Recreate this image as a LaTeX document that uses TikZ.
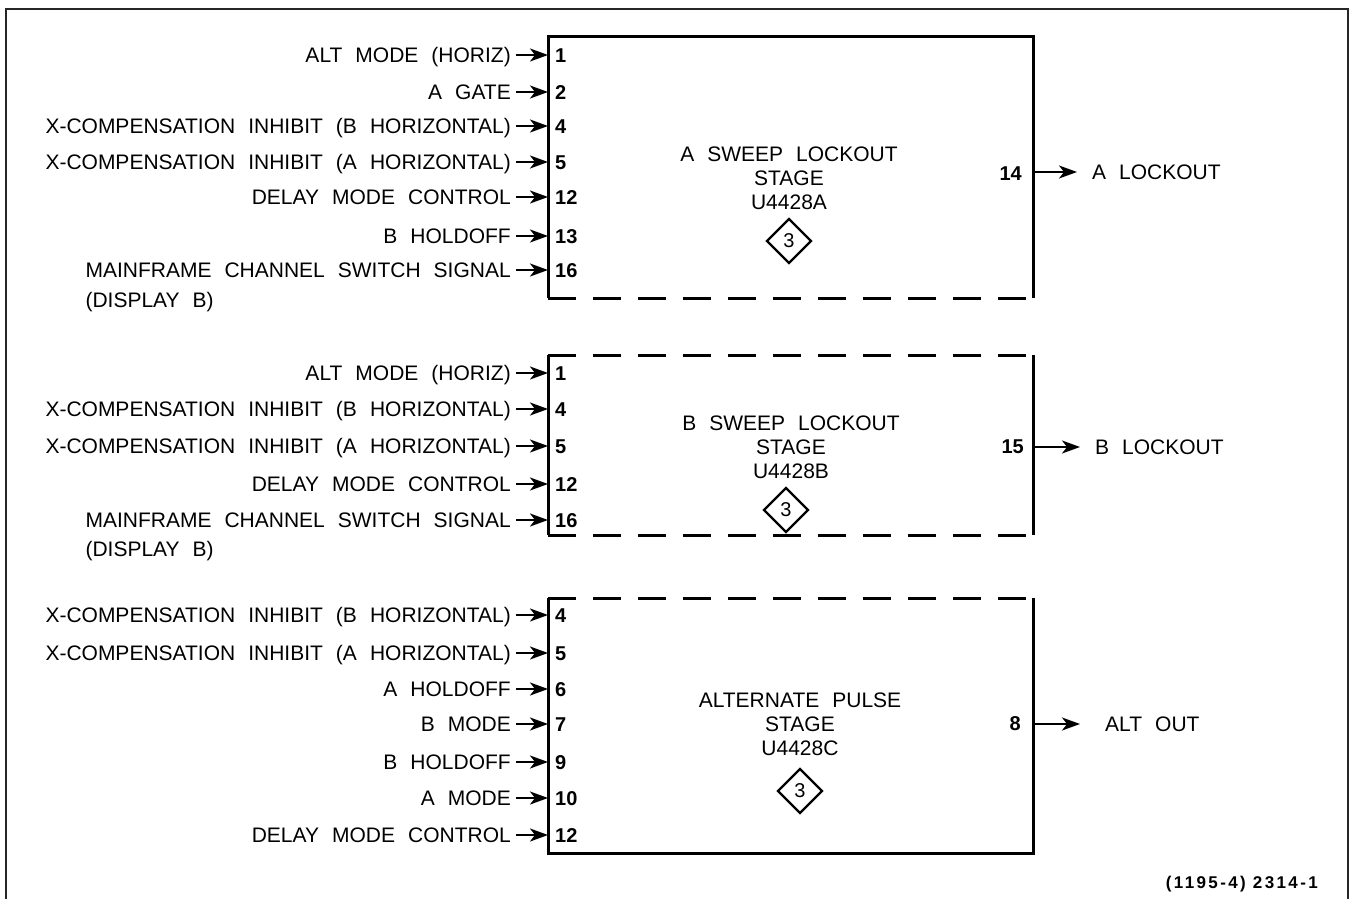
\documentclass[tikz,border=0pt]{standalone}
\usepackage{fontspec}
\setmainfont{Liberation Sans}
\usetikzlibrary{positioning,calc,arrows.meta,shapes.geometric}

\newcommand{\sigfont}{\fontsize{21}{24}\selectfont\spaceskip=0.62em\relax}
\newcommand{\pinfont}{\fontsize{20}{22}\selectfont\bfseries}

\tikzset{
    sig/.style={anchor=east, inner xsep=5pt, inner ysep=0pt, text height=15pt, text depth=0pt, font=\sigfont},
    pinno/.style={anchor=west, inner sep=0pt, text height=14.3pt, text depth=0pt, font=\pinfont},
    stagetext/.style={align=center, inner sep=0pt, font=\sigfont},
    refmark/.style={diamond, draw, line width=2.4pt, minimum size=45pt, inner sep=0pt, font=\fontsize{20}{20}\selectfont},
    inarrow/.style={line width=2.2pt, -{Stealth[length=18pt,width=13pt,inset=5pt]}},
    boxline/.style={line width=3pt},
    dashedge/.style={line width=3pt, dash pattern=on 28pt off 17pt},
    frame/.style={line width=1.6pt, black!85}
}

\begin{document}
\begin{tikzpicture}[x=1pt, y=-1pt]
    \useasboundingbox (0,0) rectangle (1354,899);
    \draw[frame] (6,899) -- (6,9) -- (1348,9) -- (1348,899);

    % A sweep lockout stage
    \coordinate (A-nw) at (548,37);
    \coordinate (A-ne) at (1033,37);
    \coordinate (A-sw) at (548,298);
    \coordinate (A-se) at (1033,298);
    \draw[boxline] (A-sw) -- (A-nw) -- (A-ne) -- (A-se);
    \draw[dashedge] (A-sw) -- (A-se);
    \foreach \y/\n/\t in {55/1/{ALT MODE (HORIZ)}, 92/2/{A GATE},
            126/4/{X-COMPENSATION INHIBIT (B HORIZONTAL)},
            162/5/{X-COMPENSATION INHIBIT (A HORIZONTAL)},
            197/12/{DELAY MODE CONTROL}, 236/13/{B HOLDOFF},
            270/16/{MAINFRAME CHANNEL SWITCH SIGNAL}} {
        \node[sig] (A-in\n) at (516,\y) {\t};
        \node[pinno] (A-pin\n) at (555,\y) {\n};
        \draw[inarrow] (A-in\n.east) -- (A-in\n.east -| A-nw);
    }
    \node[sig, anchor=west] (A-in16b) at ($(A-in16.west)+(0,30)$) {(DISPLAY B)};
    \node[stagetext] (A-txt) at (789,178) {A SWEEP LOCKOUT\\STAGE\\U4428A};
    \node[refmark] (A-ref) at (789,241) {3};
    \node[pinno, anchor=east] (A-pin14) at (1022,173) {14};
    \node[sig, anchor=west] (A-out) at (1087,172) {A LOCKOUT};
    \draw[inarrow, shorten >=10pt] (A-out.west -| A-ne) -- (A-out.west);

    % B sweep lockout stage
    \coordinate (B-nw) at (548,355);
    \coordinate (B-ne) at (1033,355);
    \coordinate (B-sw) at (548,535);
    \coordinate (B-se) at (1033,535);
    \draw[boxline] (B-nw) -- (B-sw);
    \draw[boxline] (B-ne) -- (B-se);
    \draw[dashedge] (B-nw) -- (B-ne);
    \draw[dashedge] (B-sw) -- (B-se);
    \foreach \y/\n/\t in {373/1/{ALT MODE (HORIZ)},
            409/4/{X-COMPENSATION INHIBIT (B HORIZONTAL)},
            446/5/{X-COMPENSATION INHIBIT (A HORIZONTAL)},
            484/12/{DELAY MODE CONTROL},
            520/16/{MAINFRAME CHANNEL SWITCH SIGNAL}} {
        \node[sig] (B-in\n) at (516,\y) {\t};
        \node[pinno] (B-pin\n) at (555,\y) {\n};
        \draw[inarrow] (B-in\n.east) -- (B-in\n.east -| B-nw);
    }
    \node[sig, anchor=west] (B-in16b) at ($(B-in16.west)+(0,29)$) {(DISPLAY B)};
    \node[stagetext] (B-txt) at (791,447) {B SWEEP LOCKOUT\\STAGE\\U4428B};
    \node[refmark] (B-ref) at (786,510) {3};
    \node[pinno, anchor=east] (B-pin15) at (1024,446) {15};
    \node[sig, anchor=west] (B-out) at (1090,447) {B LOCKOUT};
    \draw[inarrow, shorten >=10pt] (B-out.west -| B-ne) -- (B-out.west);

    % alternate pulse stage
    \coordinate (C-nw) at (548,598);
    \coordinate (C-ne) at (1033,598);
    \coordinate (C-sw) at (548,853);
    \coordinate (C-se) at (1033,853);
    \draw[boxline] (C-nw) -- (C-sw) -- (C-se) -- (C-ne);
    \draw[dashedge] (C-nw) -- (C-ne);
    \foreach \y/\n/\t in {615/4/{X-COMPENSATION INHIBIT (B HORIZONTAL)},
            653/5/{X-COMPENSATION INHIBIT (A HORIZONTAL)},
            689/6/{A HOLDOFF}, 724/7/{B MODE}, 762/9/{B HOLDOFF},
            798/10/{A MODE}, 835/12/{DELAY MODE CONTROL}} {
        \node[sig] (C-in\n) at (516,\y) {\t};
        \node[pinno] (C-pin\n) at (555,\y) {\n};
        \draw[inarrow] (C-in\n.east) -- (C-in\n.east -| C-nw);
    }
    \node[stagetext] (C-txt) at (800,724) {ALTERNATE PULSE\\STAGE\\U4428C};
    \node[refmark] (C-ref) at (800,791) {3};
    \node[pinno, anchor=east] (C-pin8) at (1021,723) {8};
    \node[sig, anchor=west] (C-out) at (1100,724) {ALT OUT};
    \draw[inarrow, shorten >=20pt] (C-out.west -| C-ne) -- (C-out.west);

    \node[anchor=east, inner sep=0pt, font=\fontsize{17}{17}\selectfont\bfseries\addfontfeature{LetterSpace=14}] (figno) at (1318,884) {(1195-4) 2314-1};
\end{tikzpicture}
\end{document}
